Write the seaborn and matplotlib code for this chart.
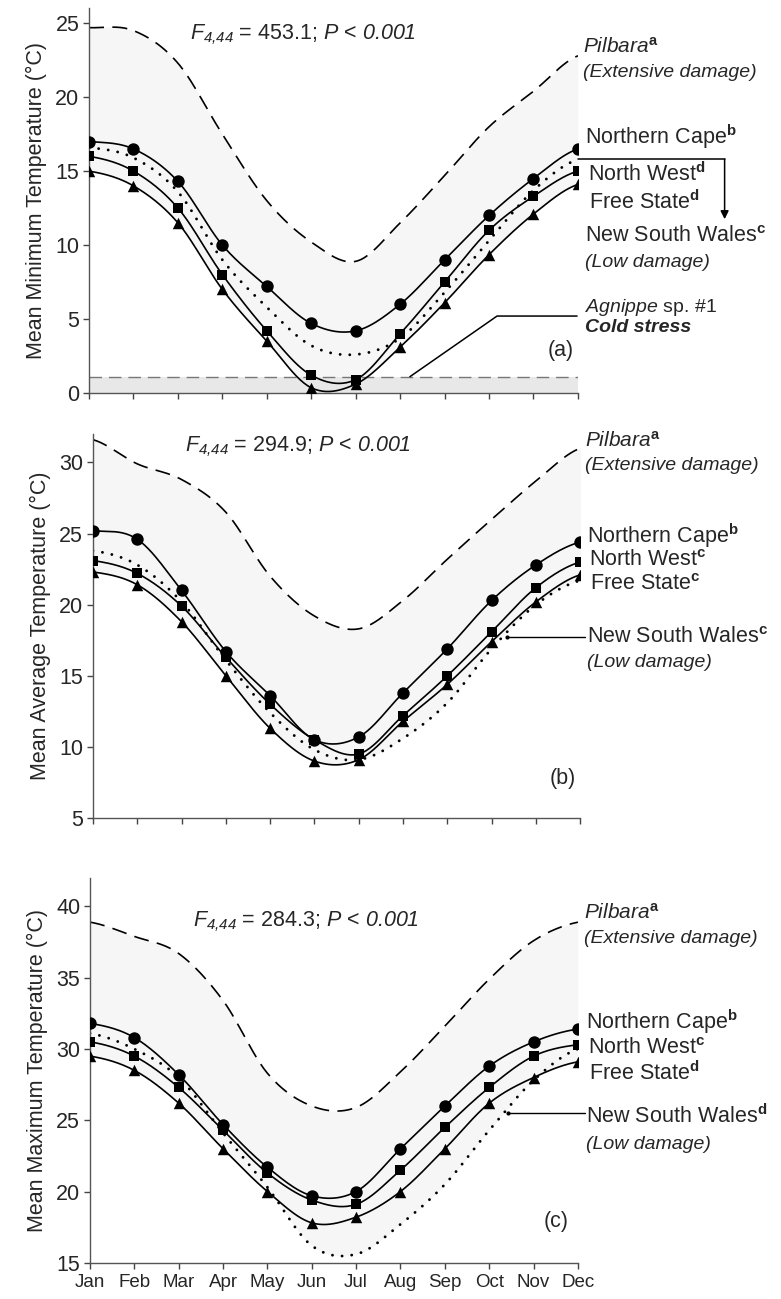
import numpy as np
import pandas as pd
import matplotlib
matplotlib.use("Agg")
import matplotlib.pyplot as plt
import seaborn as sns

months = ["Jan", "Feb", "Mar", "Apr", "May", "Jun", "Jul", "Aug", "Sep", "Oct", "Nov", "Dec"]

# (a) mean minimum temperature
min_pilbara = [24.7, 24.5, 22.3, 17.5, 13.0, 10.2, 8.9, 11.5, 14.7, 18.0, 20.4, 22.8]
min_ncape = [17.0, 16.5, 14.3, 10.0, 7.2, 4.7, 4.2, 6.0, 9.0, 12.0, 14.5, 16.5]
min_nwest = [16.0, 15.0, 12.5, 8.0, 4.2, 1.2, 0.9, 4.0, 7.5, 11.0, 13.3, 15.0]
min_fstate = [15.0, 14.0, 11.5, 7.0, 3.5, 0.35, 0.6, 3.1, 6.1, 9.35, 12.1, 14.1]
min_nsw = [16.6, 15.9, 13.6, 9.0, 5.8, 3.2, 2.6, 3.7, 6.8, 10.3, 13.7, 15.8]
cold_stress = 1.1

# (b) mean average temperature
avg_pilbara = [31.6, 29.9, 28.8, 26.5, 22.0, 19.2, 18.3, 20.3, 23.2, 26.0, 28.7, 31.0]
avg_ncape = [25.2, 24.6, 21.0, 16.7, 13.6, 10.5, 10.7, 13.8, 16.9, 20.3, 22.8, 24.4]
avg_nwest = [23.1, 22.2, 19.9, 16.3, 13.0, 10.5, 9.5, 12.2, 15.0, 18.1, 21.2, 23.0]
avg_fstate = [22.3, 21.4, 18.8, 15.0, 11.3, 9.0, 9.1, 11.8, 14.4, 17.4, 20.2, 22.1]
avg_nsw = [23.8, 22.8, 20.2, 16.1, 12.4, 9.8, 9.1, 10.6, 13.1, 16.9, 20.0, 21.7]

# (c) mean maximum temperature
max_pilbara = [38.9, 37.9, 36.7, 33.4, 28.3, 26.0, 25.9, 28.4, 31.6, 34.9, 37.6, 38.9]
max_ncape = [31.8, 30.8, 28.2, 24.7, 21.7, 19.7, 20.0, 23.0, 26.0, 28.8, 30.5, 31.4]
max_nwest = [30.5, 29.5, 27.3, 24.3, 21.3, 19.4, 19.1, 21.5, 24.5, 27.3, 29.5, 30.3]
max_fstate = [29.5, 28.5, 26.2, 23.0, 20.0, 17.8, 18.2, 20.0, 23.0, 26.2, 28.0, 29.1]
max_nsw = [31.1, 30.0, 28.0, 24.1, 20.3, 16.2, 15.6, 17.7, 20.5, 24.3, 27.8, 30.0]

# sf font is mapped to italic Liberation Sans below, so digits come out italic
f_texts = [r"$F_{\mathsf{4{,}44}}$ = 453.1; $P$ < $\mathsf{0.001}$",
           r"$F_{\mathsf{4{,}44}}$ = 294.9; $P$ < $\mathsf{0.001}$",
           r"$F_{\mathsf{4{,}44}}$ = 284.3; $P$ < $\mathsf{0.001}$"]
ylabels = ["Mean Minimum Temperature (°C)", "Mean Average Temperature (°C)",
           "Mean Maximum Temperature (°C)"]
sig = [["a", "b", "d", "d", "c"], ["a", "b", "c", "c", "c"], ["a", "b", "c", "d", "d"]]

sns.set_style("ticks")
plt.rcParams["font.family"] = ["Liberation Sans", "DejaVu Sans"]
plt.rcParams["mathtext.fontset"] = "custom"
plt.rcParams["mathtext.rm"] = "Liberation Sans"
plt.rcParams["mathtext.it"] = "Liberation Sans:italic"
plt.rcParams["mathtext.sf"] = "Liberation Sans:italic"
plt.rcParams["mathtext.bf"] = "Liberation Sans:bold"


def smooth(vals, n=24):
    # catmull-rom curve through the monthly points (like Excel's smoothed line)
    v = np.asarray(vals, float)
    p = np.r_[v[0], v, v[-1]]
    xs, ys = [], []
    t = np.linspace(0, 1, n, endpoint=False)
    for i in range(len(v) - 1):
        p0, p1, p2, p3 = p[i], p[i + 1], p[i + 2], p[i + 3]
        y = 0.5 * (2 * p1 + (p2 - p0) * t + (2 * p0 - 5 * p1 + 4 * p2 - p3) * t ** 2
                   + (-p0 + 3 * p1 - 3 * p2 + p3) * t ** 3)
        xs.append(i + t)
        ys.append(y)
    xs.append([len(v) - 1])
    ys.append([v[-1]])
    return np.concatenate(xs), np.concatenate(ys)


def draw_panel(ax, pil, nc, nw, fs, nsw, ylim, yticks):
    x = np.arange(len(months))
    xp, yp = smooth(pil)
    curves = [smooth(s)[1] for s in (nc, nw, fs, nsw)]
    low = np.min(curves, axis=0)
    ax.fill_between(xp, low, yp, color="#f6f6f6", lw=0, zorder=0)

    sns.lineplot(x=xp, y=yp, ax=ax, color="k", lw=1.2,
                 linestyle=(0, (9, 5)), estimator=None, sort=False, zorder=2)
    sns.lineplot(x=xp, y=curves[3], ax=ax, color="k", lw=2.1,
                 linestyle=(0, (0.01, 3.3)), dash_capstyle="round",
                 estimator=None, sort=False, zorder=2)
    for c in curves[:3]:
        sns.lineplot(x=xp, y=c, ax=ax, color="k", lw=1.2, estimator=None,
                     sort=False, zorder=3)
    df = pd.DataFrame({"x": np.tile(x, 3), "y": np.r_[nc, nw, fs],
                       "site": np.repeat(["nc", "nw", "fs"], len(x))})
    for site, mk, size in [("nc", "o", 80), ("nw", "s", 52), ("fs", "^", 68)]:
        d = df[df.site == site]
        sns.scatterplot(data=d, x="x", y="y", ax=ax, marker=mk, s=size,
                        color="k", edgecolor="k", linewidth=0, zorder=4)

    ax.set_xlim(0, 11)
    ax.set_ylim(*ylim)
    ax.set_yticks(yticks)
    ax.set_xticks(x)
    ax.set_xlabel("")
    ax.tick_params(axis="y", labelsize=15.5, length=4, width=1, color="#444", pad=3)
    ax.tick_params(axis="x", labelsize=13.5, length=4, width=1, color="#444", pad=4)
    for s in ["left", "bottom"]:
        ax.spines[s].set_color("#555")
        ax.spines[s].set_linewidth(1.0)
    sns.despine(ax=ax)


fig = plt.figure(figsize=(7.81, 12.99), dpi=100)
ax_a = fig.add_axes([0.114, 0.6975, 0.626, 0.296])
ax_b = fig.add_axes([0.119, 0.3703, 0.624, 0.2956])
ax_c = fig.add_axes([0.1152, 0.0279, 0.6248, 0.2962])

draw_panel(ax_a, min_pilbara, min_ncape, min_nwest, min_fstate, min_nsw,
           (0, 26), [0, 5, 10, 15, 20, 25])
draw_panel(ax_b, avg_pilbara, avg_ncape, avg_nwest, avg_fstate, avg_nsw,
           (5, 32), [5, 10, 15, 20, 25, 30])
draw_panel(ax_c, max_pilbara, max_ncape, max_nwest, max_fstate, max_nsw,
           (15, 42), [15, 20, 25, 30, 35, 40])

# cold stress band in (a)
ax_a.axhspan(0, cold_stress, color="#e8e8e8", lw=0, zorder=0.5)
ax_a.axhline(cold_stress, color="#777", lw=1.0, linestyle=(0, (9, 5)), zorder=1)

for ax in (ax_a, ax_b):
    ax.set_xticklabels([])
ax_c.set_xticklabels(months)

for ax, lab in zip((ax_a, ax_b, ax_c), ylabels):
    ax.set_ylabel(lab, fontsize=15.5, labelpad=6)

# F statistics
ax_a.text(4.81, 24.25, f_texts[0], fontsize=15.5, ha="center", va="center")
ax_b.text(4.63, 31.1, f_texts[1], fontsize=15.5, ha="center", va="center")
ax_c.text(4.86, 38.95, f_texts[2], fontsize=15.5, ha="center", va="center")

names = ["Pilbara", "Northern Cape", "North West", "Free State", "New South Wales"]
# label rows (y in data units): pilbara, extensive, nc, nw, fs, nsw, low
label_y = [[23.4, 21.7, 17.3, 14.8, 12.9, 10.6, 8.8],
           [31.5, 29.76, 24.88, 23.07, 21.43, 17.68, 15.92],
           [39.54, 37.78, 31.92, 30.06, 28.3, 25.3, 23.27]]
label_x = [11.12, 11.1, 11.13]
for ax, ly, lx, sg in zip((ax_a, ax_b, ax_c), label_y, label_x, sig):
    kw = dict(ha="left", va="center", clip_on=False)
    ax.text(lx, ly[0], names[0] + r"$^{\mathbf{%s}}$" % sg[0], fontsize=15,
            style="italic", **kw)
    ax.text(lx, ly[1], "(Extensive damage)", fontsize=14, style="italic", **kw)
    ax.text(lx + 0.05, ly[2], names[1] + r"$^{\mathbf{%s}}$" % sg[1], fontsize=15.5, **kw)
    ax.text(lx + 0.1, ly[3], names[2] + r"$^{\mathbf{%s}}$" % sg[2], fontsize=15.5, **kw)
    ax.text(lx + 0.12, ly[4], names[3] + r"$^{\mathbf{%s}}$" % sg[3], fontsize=15.5, **kw)
    ax.text(lx + 0.05, ly[5], names[4] + r"$^{\mathbf{%s}}$" % sg[4], fontsize=15.5, **kw)
    ax.text(lx + 0.05, ly[6], "(Low damage)", fontsize=14, style="italic", **kw)

# NSW leaders
ax_a.plot([11, 14.3], [min_nsw[-1], min_nsw[-1]], color="k", lw=1.1, clip_on=False)
ax_a.annotate("", xy=(14.3, 11.75), xytext=(14.3, min_nsw[-1]),
              arrowprops=dict(arrowstyle="-|>", color="k", lw=1.1,
                              mutation_scale=12, shrinkA=0, shrinkB=0),
              annotation_clip=False)
ax_b.plot([9.34, 11.1], [17.7, 17.7], color="k", lw=1.0, clip_on=False)
ax_b.plot([9.34], [17.7], "k.", ms=4)
ax_c.plot([9.42, 11.15], [25.5, 25.5], color="k", lw=1.0, clip_on=False)
ax_c.plot([9.42], [25.5], "k.", ms=4)

# cold stress leader
ax_a.plot([10.98, 9.18, 7.22], [5.2, 5.2, cold_stress], color="k", lw=1.1, clip_on=False)
ax_a.text(11.15, 5.76, r"$\mathit{Agnippe}$ sp. #1", fontsize=14, ha="left",
          va="center", clip_on=False)
ax_a.text(11.15, 4.4, "Cold stress", fontsize=14, style="italic", weight="bold",
          ha="left", va="center", clip_on=False)

ax_a.text(10.9, 2.9, "(a)", fontsize=15.5, ha="right", va="center")
ax_b.text(10.9, 7.8, "(b)", fontsize=15.5, ha="right", va="center")
ax_c.text(10.8, 17.9, "(c)", fontsize=15.5, ha="right", va="center")

fig.savefig("out.png", dpi=100)
